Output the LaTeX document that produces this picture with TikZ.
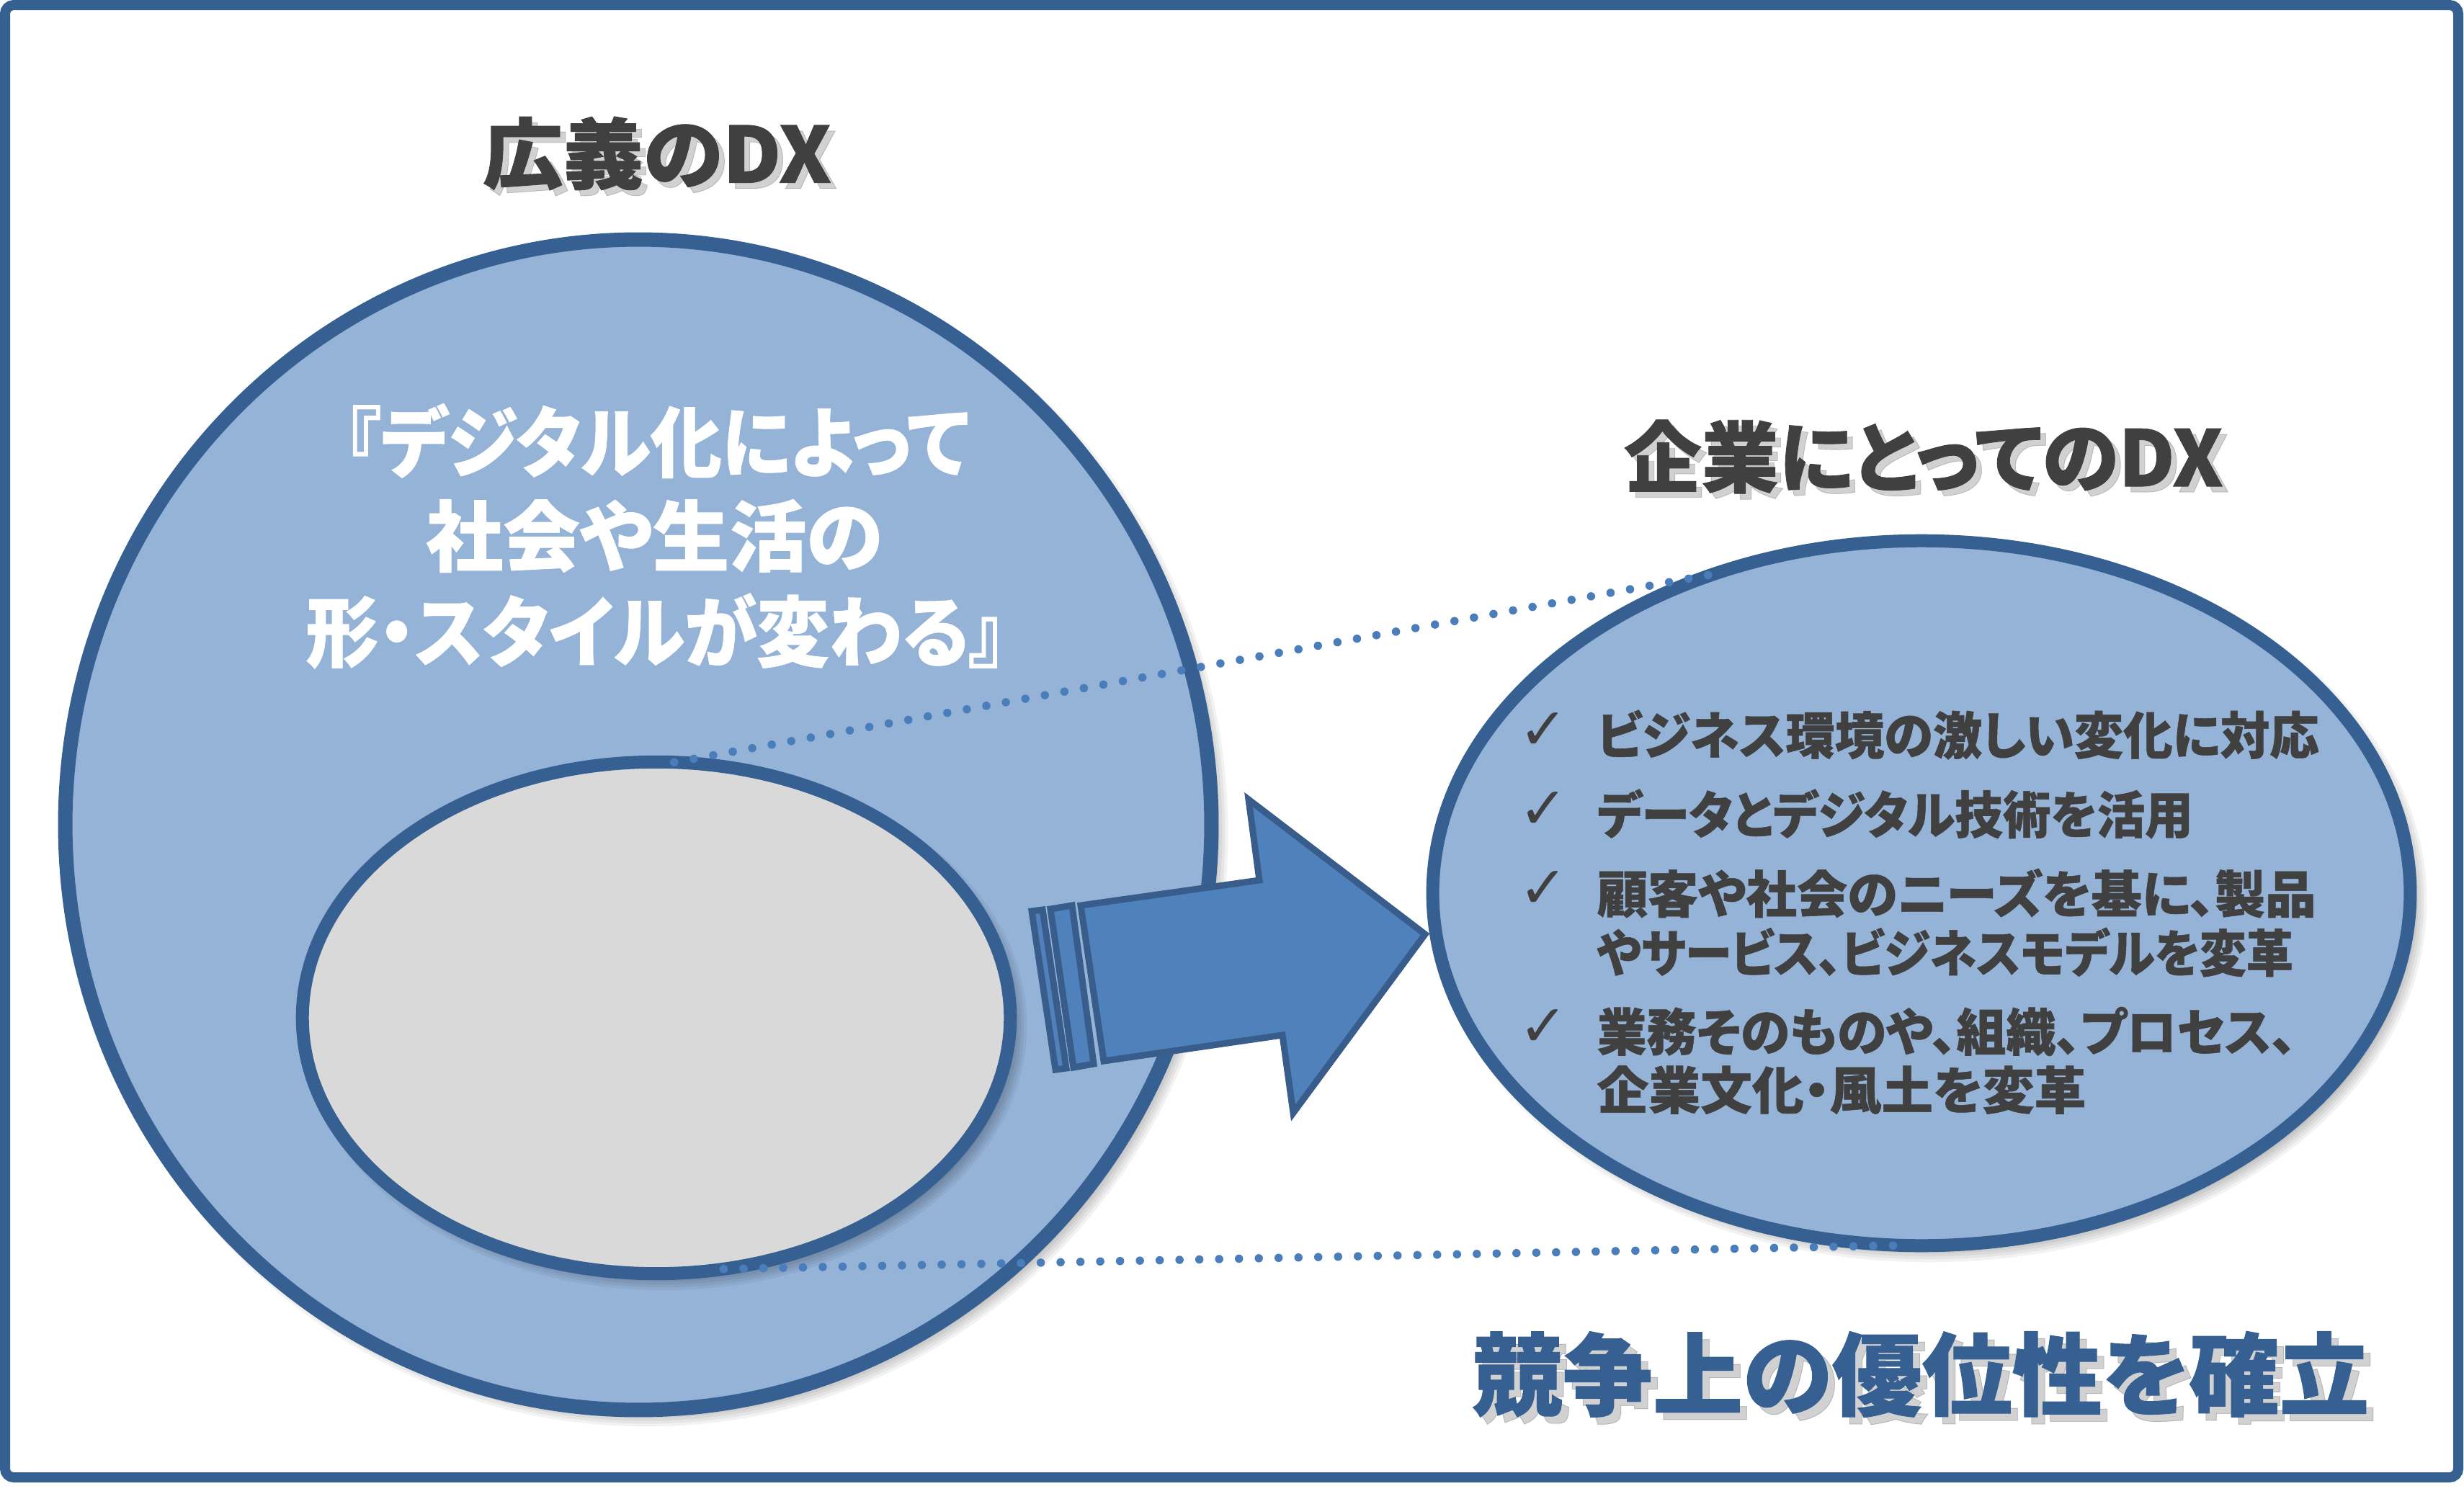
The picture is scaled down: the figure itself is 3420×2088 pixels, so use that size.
\documentclass[tikz,border=0pt]{standalone}
\usepackage{fontspec}
\newfontfamily\jp{Noto Sans CJK JP}[RawFeature=+palt, BoldFeatures={FakeBold=0.8}]
\newfontfamily\dv{DejaVu Sans}
\usetikzlibrary{shapes.geometric}
\definecolor{frameblue}{HTML}{366092}
\definecolor{ringfill}{HTML}{95B3D7}
\definecolor{innerfill}{HTML}{D9D9D9}
\definecolor{arrowfill}{HTML}{4F81BD}
\definecolor{arrowline}{HTML}{385D8A}
\definecolor{dotcol}{HTML}{4A7EBB}
\definecolor{darktext}{HTML}{404040}
\newcommand\eshadow[4]{%
  \foreach \k in {-3,...,3}{%
    \pgfmathsetmacro\rxa{(#3+4*\k)/100}%
    \pgfmathsetmacro\rya{(#4+4*\k)/100}%
    \fill[black,opacity=0.05] (#1+11,#2+11) ellipse [x radius=\rxa cm, y radius=\rya cm];}}
\newcommand\hs[2]{\scalebox{#1}[1]{#2}}
\begin{document}
\begin{tikzpicture}[x=0.01cm,y=-0.01cm,line join=miter,
  blob/.style={ellipse, draw=frameblue, inner sep=0pt, outer sep=0pt},
  shadowtxt/.style={text=black, opacity=0.18, inner sep=0pt},
  titletxt/.style={text=darktext, inner sep=0pt, font=\jp\bfseries\fontsize{30.5pt}{36pt}\selectfont},
  whitetxt/.style={text=white, inner sep=0pt, font=\jp\bfseries\fontsize{30.4pt}{36pt}\selectfont},
  bullettxt/.style={text=darktext, inner sep=0pt, anchor=west, font=\jp\bfseries\fontsize{20pt}{24pt}\selectfont},
  checktxt/.style={text=darktext, inner sep=0pt, font=\dv\fontsize{23pt}{26pt}\selectfont},
  bigtxt/.style={text=frameblue, inner sep=0pt, font=\jp\bfseries\fontsize{35.6pt}{42pt}\selectfont},
  arrowpart/.style={draw=arrowline, fill=arrowfill, line width=0.09cm},
  dotline/.style={draw=dotcol, line width=0.115cm, line cap=round, dash pattern=on 0pt off 0.275cm}]
\useasboundingbox (0,0) rectangle (3420,2088);
\fill[white] (0,0) rectangle (3420,2088);
% frame
\draw[frameblue, line width=0.14cm, rounded corners=0.12cm] (7,7) rectangle (3412,2051);

% big circle
\eshadow{886}{1145}{795}{812}
\node[blob, fill=ringfill, line width=0.2cm, minimum width=15.9cm, minimum height=16.24cm] (big) at (886,1145) {};
% inner ellipse
\eshadow{911}{1413}{491}{355}
\node[blob, fill=innerfill, line width=0.18cm, minimum width=9.82cm, minimum height=7.1cm] (inner) at (911,1413) {};
% right ellipse
\eshadow{2667}{1240}{678}{489}
\node[blob, fill=ringfill, line width=0.18cm, minimum width=13.56cm, minimum height=9.78cm] (R) at (2667,1240) {};

% dotted connectors
\draw[dotline] (inner.86) -- (R.123);
\draw[dotline] (inner.-75) -- (R.-93);

% block arrow
\draw[arrowpart] (1500,1257) -- (1748,1222) -- (1733,1110) -- (1978,1297) -- (1795,1545) -- (1780,1437) -- (1532,1473) -- cycle;
\draw[arrowpart] (1458,1262) -- (1488,1257) -- (1518,1477) -- (1490,1482) -- cycle;
\draw[arrowpart] (1432,1265) -- (1447,1263) -- (1480,1483) -- (1465,1485) -- cycle;

% titles
\node[shadowtxt, font=\jp\bfseries\fontsize{30.5pt}{36pt}\selectfont] (t1s) at (920,221) {\hs{1.04}{広義のDX}};
\node[titletxt] (t1) at (912,213) {\hs{1.04}{広義のDX}};
\node[shadowtxt, font=\jp\bfseries\fontsize{30.5pt}{36pt}\selectfont] (t2s) at (2678,642) {企業にとってのDX};
\node[titletxt] (t2) at (2670,634) {企業にとってのDX};

% white text in big circle
\node[whitetxt] (w1) at (912,612) {\hs{0.925}{『デジタル化によって}};
\node[whitetxt] (w2) at (908,744) {社会や生活の};
\node[whitetxt] (w3) at (910,876) {\hs{0.94}{形・スタイルが変わる』}};

% bullets
\node[checktxt] (c1) at (2142,1015) {✓};
\node[checktxt] (c2) at (2142,1125) {✓};
\node[checktxt] (c3) at (2142,1235) {✓};
\node[checktxt] (c4) at (2142,1427) {✓};
\node[bullettxt] (b1) at (2216,1020) {\hs{0.973}{ビジネス環境の激しい変化に対応}};
\node[bullettxt] (b2) at (2216,1130) {\hs{0.948}{データとデジタル技術を活用}};
\node[bullettxt] (b3) at (2216,1240) {顧客や社会のニーズを基に、製品};
\node[bullettxt] (b4) at (2216,1322) {\hs{0.924}{やサービス、ビジネスモデルを変革}};
\node[bullettxt] (b5) at (2216,1432) {\hs{0.98}{業務そのものや、組織、プロセス、}};
\node[bullettxt] (b6) at (2216,1513) {\hs{1.02}{企業文化・風土を変革}};

% bottom statement
\node[shadowtxt, font=\jp\bfseries\fontsize{35.6pt}{42pt}\selectfont] (bs) at (2676,1918) {競争上の優位性を確立};
\node[bigtxt] (bt) at (2666,1908) {競争上の優位性を確立};
\end{tikzpicture}
\end{document}
